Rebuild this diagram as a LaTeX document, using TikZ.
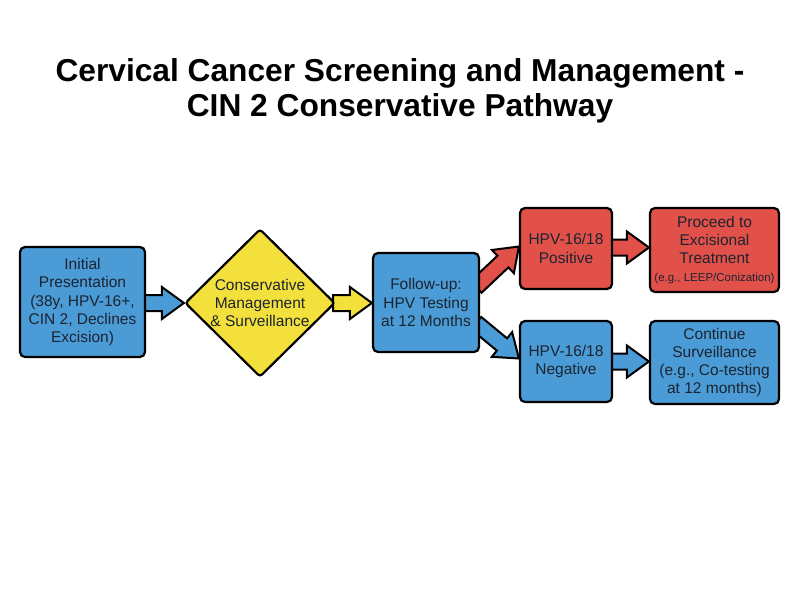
\documentclass[tikz,border=0pt]{standalone}
\usepackage{fontspec}
\setmainfont{Liberation Sans}
\usetikzlibrary{calc,shapes.geometric,backgrounds}
\definecolor{cblue}{HTML}{4A9BD6}
\definecolor{cyellow}{HTML}{F4E03C}
\definecolor{cred}{HTML}{E2504A}
\definecolor{ctext}{HTML}{1C2430}
\newcommand\myblockarrow[3]{%
  \coordinate (bah) at ($(#2)!22pt!(#1)$);
  \filldraw[barrow, fill=#3]
    ($(#1)!8pt!90:(#2)$) -- ($(bah)!8pt!90:(#2)$) -- ($(bah)!16pt!90:(#2)$)
    -- (#2) -- ($(bah)!16pt!-90:(#2)$) -- ($(bah)!8pt!-90:(#2)$)
    -- ($(#1)!8pt!-90:(#2)$) -- cycle;}
\begin{document}
\begin{tikzpicture}[x=1pt,y=-1pt,
  box/.style={draw=black, line width=2.2pt, rounded corners=5pt, align=center,
    text=ctext, font=\fontsize{15.5}{18.2}\selectfont, inner sep=0pt},
  barrow/.style={draw=black, line width=2pt, line join=miter}]
\useasboundingbox (0,0) rectangle (800,600);
\node[font=\bfseries\fontsize{31.7}{35}\selectfont, align=center] (title) at (400,91)
  {Cervical Cancer Screening and Management -\\CIN 2 Conservative Pathway};

\node[box, fill=cblue, minimum width=125pt, minimum height=110pt] (init) at (82.5,302)
  {Initial\\Presentation\\(38y, HPV-16+,\\CIN 2, Declines\\Excision)};
\node[diamond, draw=black, line width=2.2pt, rounded corners=3pt, fill=cyellow,
  minimum width=150pt, minimum height=148pt, inner sep=0pt] (diam) at (260,303) {};
\node[align=center, text=ctext, font=\fontsize{15.5}{18.2}\selectfont] (dlabel) at (diam.center)
  {Conservative\\Management\\\& Surveillance};
\node[box, fill=cblue, minimum width=106pt, minimum height=99pt] (follow) at (426,302.5)
  {Follow-up:\\HPV Testing\\at 12 Months};
\node[box, fill=cred, minimum width=92pt, minimum height=81pt] (pos) at (566,248.5)
  {HPV-16/18\\Positive};
\node[box, fill=cred, minimum width=129pt, minimum height=84pt] (proc) at (714.5,250)
  {Proceed to\\Excisional\\Treatment\\{\fontsize{11.5}{13}\selectfont (e.g., LEEP/Conization)}};
\node[box, fill=cblue, minimum width=92pt, minimum height=81pt] (neg) at (566,361.5)
  {HPV-16/18\\Negative};
\node[box, fill=cblue, minimum width=129pt, minimum height=83pt] (cont) at (714.5,362.5)
  {Continue\\Surveillance\\(e.g., Co-testing\\at 12 months)};

\path (init.east |- diam.west) ++(-3,0) coordinate (a1s);
\coordinate (a1e) at (diam.west);
\coordinate (a2s) at ($(diam.east)+(-3,0)$);
\path (diam.east -| follow.west) coordinate (a2e);
\coordinate (a3s) at ($(follow.north east)+(-4,35)$);
\coordinate (a3e) at ($(pos.west)+(0,-2)$);
\coordinate (a4s) at ($(follow.south east)+(-4,-30)$);
\coordinate (a4e) at ($(neg.west)+(0,-3)$);
\coordinate (a5s) at ($(pos.east)+(-3,-1)$);
\path (a5s -| proc.west) coordinate (a5e);
\coordinate (a6s) at ($(neg.east)+(-3,0)$);
\path (a6s -| cont.west) coordinate (a6e);

\begin{scope}[on background layer]
  \myblockarrow{a1s}{a1e}{cblue}
  \myblockarrow{a2s}{a2e}{cyellow}
  \myblockarrow{a3s}{a3e}{cred}
  \myblockarrow{a4s}{a4e}{cblue}
  \myblockarrow{a5s}{a5e}{cred}
  \myblockarrow{a6s}{a6e}{cblue}
\end{scope}
\end{tikzpicture}
\end{document}
